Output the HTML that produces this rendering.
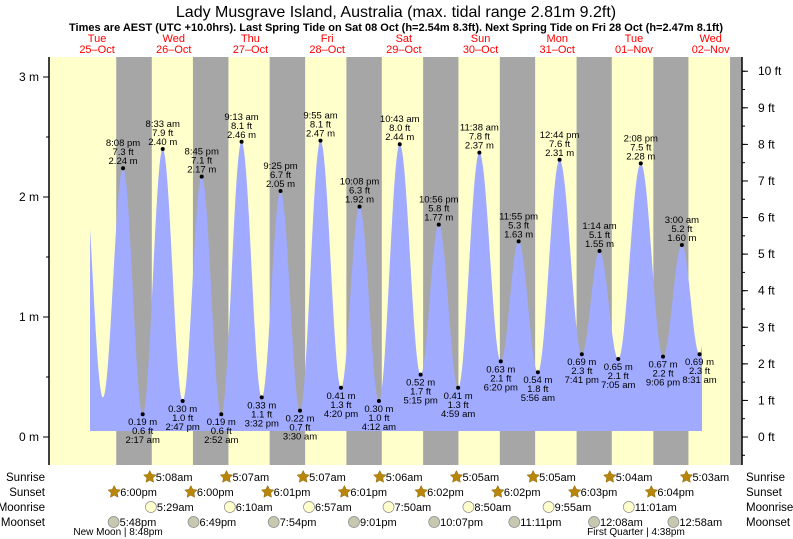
<!DOCTYPE html>
<html><head><meta charset="utf-8">
<style>
body{margin:0;background:#fff;}
svg{display:block;font-family:"Liberation Sans",sans-serif;}
</style></head>
<body>
<svg id="chart" width="793" height="539" viewBox="0 0 793 539" xmlns="http://www.w3.org/2000/svg">
<text x="396" y="17" font-size="16" text-anchor="middle" fill="#000">Lady Musgrave Island, Australia (max. tidal range 2.81m 9.2ft)</text>
<text x="396" y="31" font-size="11" font-weight="bold" text-anchor="middle" fill="#000">Times are AEST (UTC +10.0hrs). Last Spring Tide on Sat 08 Oct (h=2.54m 8.3ft). Next Spring Tide on Fri 28 Oct (h=2.47m 8.1ft)</text>
<g id="bg"></g>
<g id="tide"></g>
<g id="labels"></g>
<g id="axes"></g>
<g id="astro"></g>
</svg>
<script>
const NS="http://www.w3.org/2000/svg";
const dayNames=["Tue","Wed","Thu","Fri","Sat","Sun","Mon","Tue","Wed"];
const dayDates=["25–Oct","26–Oct","27–Oct","28–Oct","29–Oct","30–Oct","31–Oct","01–Nov","02–Nov"];
// tide extremes: day index (0=25 Oct), time "h:mm", height m
const tideDays=[0,0,1,1,1,1,2,2,2,2,3,3,3,3,4,4,4,4,5,5,5,5,6,6,6,7,7,7,7,8,8];
const tideTimes=["13:50","20:08","2:17","8:33","14:47","20:45","2:52","9:13","15:32","21:25","3:30","9:55","16:20","22:08","4:12","10:43","17:15","22:56","4:59","11:38","18:20","23:55","5:56","12:44","19:41","1:14","7:05","14:08","21:06","3:00","8:31"];
const tideHeights=[0.33,2.24,0.19,2.40,0.30,2.17,0.19,2.46,0.33,2.05,0.22,2.47,0.41,1.92,0.30,2.44,0.52,1.77,0.41,2.37,0.63,1.63,0.54,2.31,0.69,1.55,0.65,2.28,0.67,1.60,0.69];
const tideLabelTimes=[null,"8:08 pm","2:17 am","8:33 am","2:47 pm","8:45 pm","2:52 am","9:13 am","3:32 pm","9:25 pm","3:30 am","9:55 am","4:20 pm","10:08 pm","4:12 am","10:43 am","5:15 pm","10:56 pm","4:59 am","11:38 am","6:20 pm","11:55 pm","5:56 am","12:44 pm","7:41 pm","1:14 am","7:05 am","2:08 pm","9:06 pm","3:00 am","8:31 am"];
const sunriseDays=[1,2,3,4,5,6,7,8];
const sunriseTimes=["5:08","5:07","5:07","5:06","5:05","5:05","5:04","5:03"];
const sunriseLabels=["5:08am","5:07am","5:07am","5:06am","5:05am","5:05am","5:04am","5:03am"];
const sunsetDays=[0,1,2,3,4,5,6,7,8];
const sunsetTimes=["18:00","18:00","18:01","18:01","18:02","18:02","18:03","18:04","18:04"];
const sunsetLabels=["6:00pm","6:00pm","6:01pm","6:01pm","6:02pm","6:02pm","6:03pm","6:04pm"];
const moonriseDays=[1,2,3,4,5,6,7];
const moonriseTimes=["5:29","6:10","6:57","7:50","8:50","9:55","11:01"];
const moonriseLabels=["5:29am","6:10am","6:57am","7:50am","8:50am","9:55am","11:01am"];
const moonsetDays=[0,1,2,3,4,5,7,8];
const moonsetTimes=["17:48","18:49","19:54","21:01","22:07","23:11","0:08","0:58"];
const moonsetLabels=["5:48pm","6:49pm","7:54pm","9:01pm","10:07pm","11:11pm","12:08am","12:58am"];
const leftTicks=[0,1,2,3];
const rightTicks=[0,1,2,3,4,5,6,7,8,9,10];

const X0=58.7, PXD=76.7, L=49, R=742, T=57, B=465;
const x=(d,hm)=>{const [h,m]=hm.split(":").map(Number);return X0+(d+(h+m/60)/24)*PXD;};
const y=h=>437-120*h;
const yft=f=>y(f*0.3048);
function el(tag,attrs,parent,txt){const e=document.createElementNS(NS,tag);for(const k in attrs)e.setAttribute(k,attrs[k]);if(txt!==undefined)e.textContent=txt;parent.appendChild(e);return e;}
const bg=document.getElementById("bg"),tide=document.getElementById("tide"),lab=document.getElementById("labels"),ax=document.getElementById("axes"),astro=document.getElementById("astro");

let r=el("rect",{x:L,y:T,width:R-L,height:B-T,fill:"#ffffcc"},bg);


for(let i=0;i<sunsetDays.length;i++){
  const xs=x(sunsetDays[i],sunsetTimes[i]);
  const xe=i<sunriseDays.length?x(sunriseDays[i],sunriseTimes[i]):R;
  const n=el("rect",{x:xs,y:T,width:Math.min(xe,R)-xs,height:B-T,fill:"#a6a6a6"},bg);
  
  
}
for(let i=0;i<dayNames.length;i++){
  const cx=X0+(i+0.5)*PXD;
  const t1=el("text",{x:cx,y:42,"font-size":"11","text-anchor":"middle",fill:"#ff0000"},lab,dayNames[i]);
  
  
  const t2=el("text",{x:cx,y:53,"font-size":"11","text-anchor":"middle",fill:"#ff0000"},lab,dayDates[i]);
  
  
}
const px=tideDays.map((d,i)=>x(d,tideTimes[i]));
const startX=90, endX=702, baseY=431;
const pre={x:px[0]-(px[1]-px[0]),h:2.3};
const post={x:px[px.length-1]+(px[px.length-1]-px[px.length-2]),h:2.25};
const P=[pre].concat(px.map((v,i)=>({x:v,h:tideHeights[i]}))).concat([post]);
function hAt(xx){for(let i=0;i<P.length-1;i++){if(xx>=P[i].x&&xx<=P[i+1].x){const f=(xx-P[i].x)/(P[i+1].x-P[i].x);return P[i].h+(P[i+1].h-P[i].h)*(1-Math.cos(Math.PI*f))/2;}}return P[P.length-1].h;}
let d=`M${startX},${baseY}`;
for(let xx=startX;xx<=endX;xx+=0.5)d+=` L${xx},${y(hAt(xx)).toFixed(2)}`;
d+=` L${endX},${baseY} Z`;
const path=el("path",{d:d,fill:"#a0aaff"},tide);


for(let i=0;i<tideHeights.length;i++){
  if(tideLabelTimes[i]===null)continue;
  const cx=px[i],cy=y(tideHeights[i]);
  const dot=el("circle",{cx:cx,cy:cy,r:2,fill:"#000"},lab);
  
  
  const ft=(tideHeights[i]/0.3048).toFixed(1)+" ft";
  const m=tideHeights[i].toFixed(2)+" m";
  const high=i>0&&tideHeights[i]>tideHeights[i-1];
  const lines=high?[tideLabelTimes[i],ft,m]:[m,ft,tideLabelTimes[i]];
  const ys=high?[cy-22,cy-13,cy-4]:[cy+11,cy+20,cy+29];
  for(let k=0;k<3;k++){
    const t=el("text",{x:cx,y:ys[k],"font-size":"9.5","text-anchor":"middle",fill:"#000"},lab,lines[k]);
    
    
  }
}
el("line",{x1:L,y1:T,x2:L,y2:B,stroke:"#000","stroke-width":1.5},ax);
el("line",{x1:R,y1:T,x2:R,y2:B,stroke:"#000","stroke-width":1.5},ax);
for(const v of leftTicks){
  el("line",{x1:L-6,y1:y(v),x2:L,y2:y(v),stroke:"#000"},ax);
  const t=el("text",{x:L-10,y:y(v)+4,"font-size":"12","text-anchor":"end",fill:"#000"},ax,v+" m");
  
  
}
for(let v=-0.5;v<3.3;v+=0.5){if(y(v)<T||y(v)>B)continue;el("line",{x1:L-3,y1:y(v),x2:L,y2:y(v),stroke:"#000"},ax);}
for(const v of rightTicks){
  el("line",{x1:R,y1:yft(v),x2:R+6,y2:yft(v),stroke:"#000"},ax);
  const t=el("text",{x:R+16,y:yft(v)+4,"font-size":"12","text-anchor":"start",fill:"#000"},ax,v+" ft");
  
  
}
for(let v=-0.5;v<10.6;v+=0.5){if(yft(v)<T||yft(v)>B)continue;el("line",{x1:R,y1:yft(v),x2:R+3,y2:yft(v),stroke:"#000"},ax);}
const rows=[["Sunrise",477],["Sunset",492],["Moonrise",507],["Moonset",522]];
for(const [n,yy] of rows){
  const a=el("text",{x:45,y:yy+4,"font-size":"11.5","text-anchor":"end",fill:"#000"},astro,n);
  
  
  const b=el("text",{x:746,y:yy+4,"font-size":"11.5","text-anchor":"start",fill:"#000"},astro,n);
  
  
}
function star(cx,cy){let pts=[];for(let k=0;k<10;k++){const rr=k%2?3.2:6.5,a=-Math.PI/2+k*Math.PI/5;pts.push((cx+rr*Math.cos(a)).toFixed(1)+","+(cy+rr*Math.sin(a)).toFixed(1));}return pts.join(" ");}
function row(days,times,labels,yy,kind){
  for(let i=0;i<labels.length;i++){
    const cx=x(days[i],times[i])-2;
    let ic;
    if(kind==="sun")ic=el("polygon",{points:star(cx,yy),fill:"#b8860b",stroke:"#8a6508","stroke-width":0.5},astro);
    else ic=el("circle",{cx:cx,cy:yy,r:5.5,fill:kind==="rise"?"#ffffcc":"#c8c8b0",stroke:"#888","stroke-width":0.7},astro);
    
    
    const t=el("text",{x:cx+6,y:yy+4,"font-size":"11",fill:"#000"},astro,labels[i]);
    
    
  }
}
row(sunriseDays,sunriseTimes,sunriseLabels,477,"sun");
row(sunsetDays,sunsetTimes,sunsetLabels,492,"sun");
row(moonriseDays,moonriseTimes,moonriseLabels,507,"rise");
row(moonsetDays,moonsetTimes,moonsetLabels,522,"set");
const nm=el("text",{x:118,y:535,"font-size":"10","text-anchor":"middle",fill:"#000"},astro,"New Moon | 8:48pm");


const fq=el("text",{x:636,y:535,"font-size":"10","text-anchor":"middle",fill:"#000"},astro,"First Quarter | 4:38pm");


</script>
</body></html>
